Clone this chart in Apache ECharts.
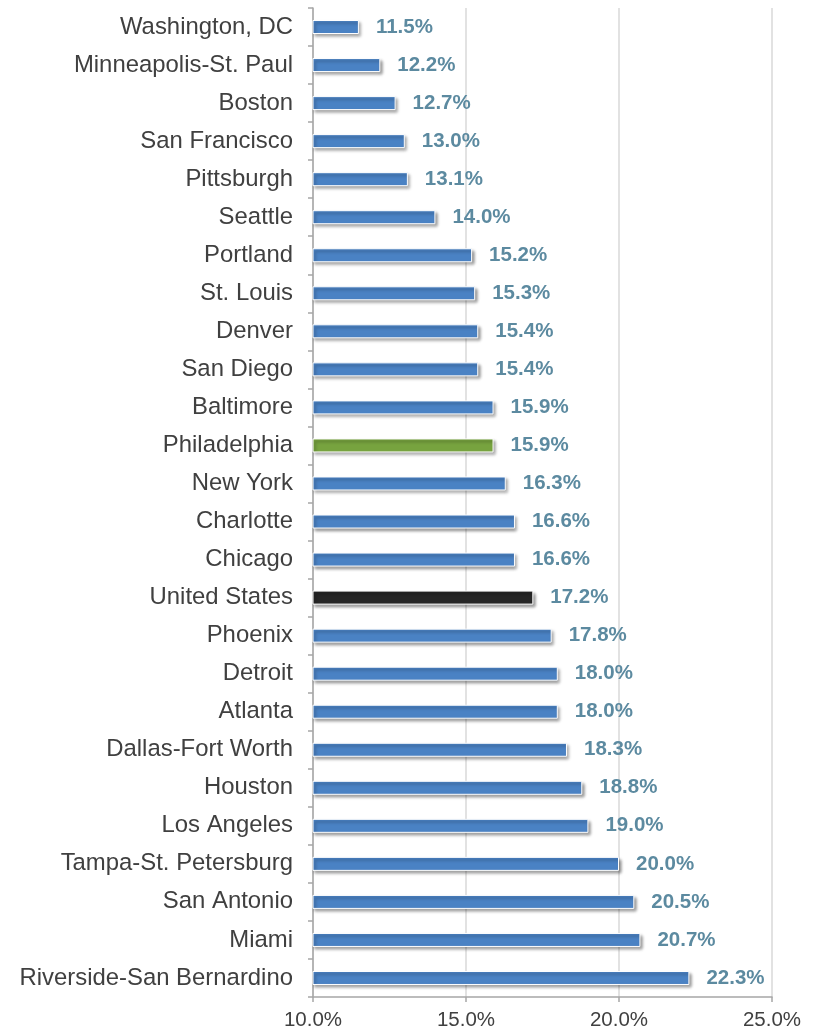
<!DOCTYPE html>
<html>
<head>
<meta charset="utf-8">
<style>
html,body{margin:0;padding:0;background:#fff;}
#chart{width:817px;height:1034px;}
</style>
<script src="https://cdn.jsdelivr.net/npm/echarts@6/dist/echarts.min.js"></script>
</head>
<body>
<div id="chart"></div>
<script>
var categories = ["Washington, DC","Minneapolis-St. Paul","Boston","San Francisco","Pittsburgh","Seattle","Portland","St. Louis","Denver","San Diego","Baltimore","Philadelphia","New York","Charlotte","Chicago","United States","Phoenix","Detroit","Atlanta","Dallas-Fort Worth","Houston","Los Angeles","Tampa-St. Petersburg","San Antonio","Miami","Riverside-San Bernardino"];
var values = [11.5,12.2,12.7,13.0,13.1,14.0,15.2,15.3,15.4,15.4,15.9,15.9,16.3,16.6,16.6,17.2,17.8,18.0,18.0,18.3,18.8,19.0,20.0,20.5,20.7,22.3];
var xTicks = [10,15,20,25];

var defaultColor = '#4A82C4';
var highlightColors = {"Philadelphia":"#77A33F","United States":"#262626"};

var chart = echarts.init(document.getElementById('chart'), null, {renderer:'canvas'});
var font = '"Liberation Sans", Arial, sans-serif';
chart.setOption({
  animation:false,
  backgroundColor:'#fff',
  grid:{left:313,right:45,top:8,bottom:37,containLabel:false},
  xAxis:{
    type:'value',min:xTicks[0],max:xTicks[xTicks.length-1],interval:5,
    axisLine:{show:true,lineStyle:{color:'#A6A6A6',width:1.5}},
    axisTick:{show:true,length:5,lineStyle:{color:'#A6A6A6',width:1.5}},
    splitLine:{show:true,lineStyle:{color:'#D9D9D9',width:1.5}},
    axisLabel:{formatter:function(v){return v.toFixed(1)+'%';},color:'#404040',fontSize:20.5,fontFamily:font,margin:13}
  },
  yAxis:{
    type:'category',data:categories,inverse:true,
    axisLine:{show:true,lineStyle:{color:'#A6A6A6',width:1.5}},
    axisTick:{show:true,length:5,lineStyle:{color:'#A6A6A6',width:1.5}},
    axisLabel:{color:'#404040',fontSize:23.9,fontFamily:font,margin:20}
  },
  series:[{
    type:'bar',
    barWidth:14,
    data:values.map(function(v,i){
      var c = highlightColors[categories[i]] || defaultColor;
      return {value:v,itemStyle:{color:c}};
    }),
    itemStyle:{borderColor:'#fff',borderWidth:1,shadowColor:'rgba(0,0,0,0.4)',shadowBlur:3,shadowOffsetX:2,shadowOffsetY:2.5},
    label:{show:true,position:'right',distance:17,formatter:function(p){return p.value.toFixed(1)+'%';},color:'#5C8AA0',fontWeight:'bold',fontSize:20.5,fontFamily:font}
  }]
});
</script>
</body>
</html>
